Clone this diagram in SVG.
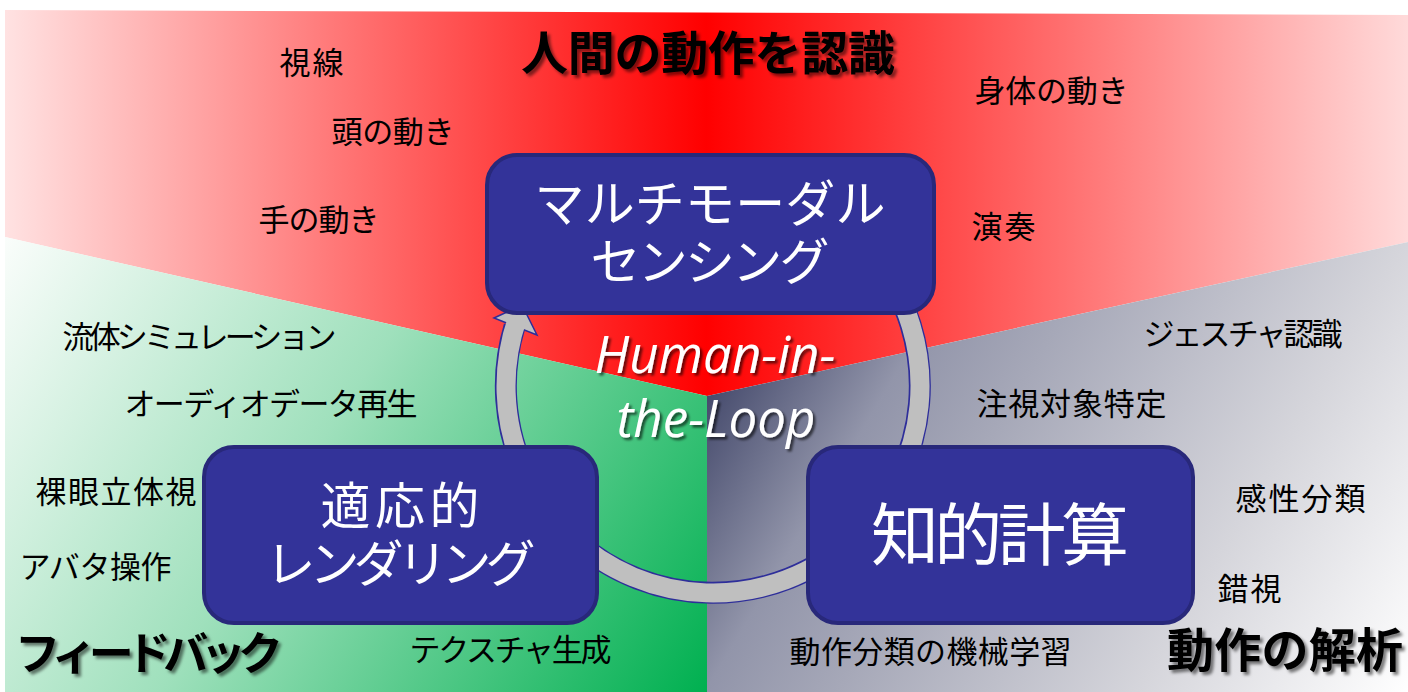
<svg xmlns="http://www.w3.org/2000/svg" width="1408" height="692" viewBox="0 0 1408 692">
<defs>
<linearGradient id="gRed" gradientUnits="userSpaceOnUse" x1="5" y1="0" x2="1408" y2="0">
<stop offset="0" stop-color="#FFE2E2"/>
<stop offset="0.5" stop-color="#FF0000"/>
<stop offset="1" stop-color="#FFDADA"/>
</linearGradient>
<linearGradient id="gGreen" gradientUnits="userSpaceOnUse" x1="5" y1="237" x2="707" y2="692">
<stop offset="0" stop-color="#FAFDFB"/>
<stop offset="0.45" stop-color="#9FE0BC"/>
<stop offset="1" stop-color="#00B050"/>
</linearGradient>
<linearGradient id="gGray" gradientUnits="userSpaceOnUse" x1="707" y1="396" x2="1353" y2="784">
<stop offset="0" stop-color="#464B6D"/>
<stop offset="0.2" stop-color="#9295AA"/>
<stop offset="0.35" stop-color="#A6A8B8"/>
<stop offset="0.69" stop-color="#D5D5DB"/>
<stop offset="1" stop-color="#FFFFFF"/>
</linearGradient>
<filter id="shadow" x="-10%" y="-30%" width="120%" height="160%">
<feDropShadow dx="3" dy="3" stdDeviation="1.5" flood-color="#000000" flood-opacity="0.5"/>
</filter>
<filter id="shadowW" x="-10%" y="-30%" width="120%" height="160%">
<feDropShadow dx="2.5" dy="2.5" stdDeviation="1.2" flood-color="#000000" flood-opacity="0.6"/>
</filter>
<style>
.lbl{font-family:"Noto Sans CJK JP","Noto Sans CJK SC",sans-serif;font-size:31px;fill:#000;text-anchor:middle}
.ttl{font-family:"Noto Sans CJK JP","Noto Sans CJK SC",sans-serif;font-size:47px;font-weight:bold;fill:#000;text-anchor:middle}
.nt{font-family:"Noto Sans CJK JP","Noto Sans CJK SC",sans-serif;font-size:50px;fill:#FFF;text-anchor:middle}
.box{fill:#333399;stroke:#28287A;stroke-width:4}
.hil{font-family:"Open Sans",sans-serif;font-style:italic;font-size:51px;fill:#FFF;text-anchor:middle}
</style>
</defs>

<g id="background">
<polygon points="5,10 1408,15 1408,242 707,396 5,237" fill="url(#gRed)"/>
<polygon points="5,237 707,396 707,692 5,692" fill="url(#gGreen)"/>
<polygon points="707,396 1408,242 1408,692 707,692" fill="url(#gGray)"/>
</g>

<g id="labels">
<text class="lbl" x="311.5" y="74" textLength="64">視線</text>
<text class="lbl" x="393" y="143" textLength="123">頭の動き</text>
<text class="lbl" x="319" y="231" textLength="121">手の動き</text>
<text class="lbl" x="1051.5" y="102" textLength="154">身体の動き</text>
<text class="lbl" x="1003.5" y="238" textLength="64">演奏</text>
<text class="lbl" x="1243" y="345" textLength="199">ジェスチャ認識</text>
<text class="lbl" x="1071.5" y="415" textLength="190">注視対象特定</text>
<text class="lbl" x="1300.5" y="510" textLength="130">感性分類</text>
<text class="lbl" x="1249.5" y="600" textLength="64">錯視</text>
<text class="lbl" x="930.5" y="663" textLength="282">動作分類の機械学習</text>
<text class="lbl" x="199.5" y="348" textLength="274">流体シミュレーション</text>
<text class="lbl" x="271" y="415" textLength="293">オーディオデータ再生</text>
<text class="lbl" x="116" y="503" textLength="161">裸眼立体視</text>
<text class="lbl" x="95.5" y="578" textLength="152">アバタ操作</text>
<text class="lbl" x="510.5" y="661" textLength="202">テクスチャ生成</text>
</g>

<g id="titles" filter="url(#shadow)">
<text class="ttl" x="708" y="70" textLength="374">人間の動作を認識</text>
<text class="ttl" x="149" y="670" style="font-size:45px" textLength="268">フィードバック</text>
<text class="ttl" x="1285" y="667" textLength="236">動作の解析</text>
</g>

<g id="connectors">
<path d="M 816.5 206.7 A 207 207 0 1 1 514.5 326.6" fill="none" stroke="#2E2E9A" stroke-width="22"/>
<polygon points="494,318 522,305 537,335" fill="#BFBFBF" stroke="#2E2E9A" stroke-width="1.5" stroke-linejoin="miter"/>
<path d="M 816.5 206.7 A 207 207 0 1 1 517.3 318.6" fill="none" stroke="#BFBFBF" stroke-width="19"/>
</g>

<g id="hitl" filter="url(#shadowW)">
<text class="hil" x="715" y="373">Human-in-</text>
<text class="hil" x="716" y="437">the-Loop</text>
</g>

<g id="node-sensing">
<rect class="box" x="487" y="155" width="447" height="158" rx="30"/>
<text class="nt" x="710" y="221.5" textLength="351">マルチモーダル</text>
<text class="nt" x="710" y="279.5" textLength="239">センシング</text>
</g>

<g id="node-rendering">
<rect class="box" x="204" y="447" width="393" height="176" rx="30"/>
<text class="nt" x="400" y="523.5" textLength="159">適応的</text>
<text class="nt" x="400.5" y="581.5" textLength="270">レンダリング</text>
</g>

<g id="node-computing">
<rect class="box" x="808" y="447" width="385" height="176" rx="30"/>
<text class="nt" x="1000" y="560" style="font-size:68px" textLength="258">知的計算</text>
</g>
</svg>
